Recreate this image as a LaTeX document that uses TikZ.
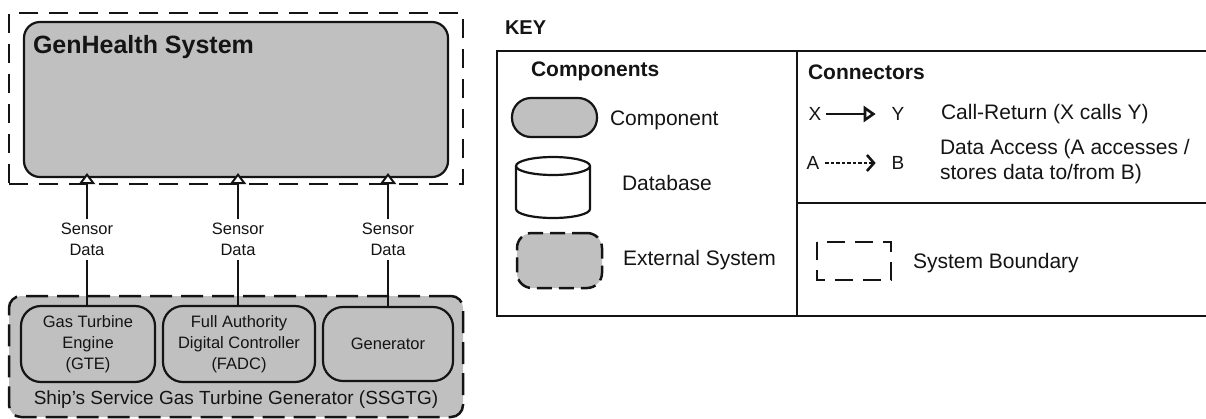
\documentclass[tikz,border=0pt]{standalone}
\usepackage{fontspec}
\setmainfont{Liberation Sans}
\usetikzlibrary{arrows.meta}
\definecolor{compgray}{RGB}{192,192,192}
\definecolor{inkcol}{RGB}{20,20,20}
\begin{document}
\begin{tikzpicture}[x=1pt,y=-1pt,
  every node/.style={inner sep=0pt, outer sep=0pt, text=inkcol},
  txt/.style={font=\fontsize{16.5}{21}\selectfont, align=center},
  keytxt/.style={font=\fontsize{21}{25}\selectfont, align=left, anchor=west},
  keyhead/.style={font=\bfseries\fontsize{21}{25}\selectfont, anchor=west},
  comp/.style={draw=inkcol, line width=2.2pt, fill=compgray, rounded corners=20pt, txt},
  extsys/.style={draw=inkcol, line width=2.5pt, fill=compgray, rounded corners=14pt, dash pattern=on 22pt off 9pt},
  sysbound/.style={draw=inkcol, line width=2.8pt, dash pattern=on 19pt off 11pt},
  sdlabel/.style={txt, inner sep=4pt},
  conn/.style={draw=inkcol, line width=2.2pt},
  callret/.style={conn, -{Triangle[open, fill=white, length=11pt, width=16pt, line width=2pt]}},
  keyline/.style={draw=inkcol, line width=2.2pt}
]
\useasboundingbox (0,0) rectangle (1206,418);

% ---------- GenHealth system and its boundary ----------
\node[sysbound, minimum width=454pt, minimum height=171pt] (sysb) at (236,98.5) {};
\node[comp, rounded corners=16pt, minimum width=424pt, minimum height=155pt] (gh) at (236,99.5) {};
\node[anchor=base west, font=\bfseries\fontsize{25}{30}\selectfont] (ghlabel) at (33,53) {GenHealth System};

% ---------- Ship's service gas turbine generator ----------
\node[extsys, rounded corners=12pt, minimum width=454pt, minimum height=121pt] (ssgtg) at (236,356.5) {};
\node[comp, minimum width=134pt, minimum height=76pt] (gte) at (88,344) {Gas Turbine\\Engine\\(GTE)};
\node[comp, minimum width=152pt, minimum height=76pt] (fadc) at (239,344) {Full Authority\\Digital Controller\\(FADC)};
\node[comp, minimum width=130pt, minimum height=74pt] (gen) at (388,344) {Generator};
\node[font=\fontsize{19}{23}\selectfont] (ssgtglabel) at (236,400) {Ship's Service Gas Turbine Generator (SSGTG)};

% ---------- sensor data flows ----------
\node[sdlabel] (sd1) at (87,239.5) {Sensor\\Data};
\node[sdlabel] (sd2) at (238,239.5) {Sensor\\Data};
\node[sdlabel] (sd3) at (388,239.5) {Sensor\\Data};

\draw[conn] (sd1.south |- gte.north) -- (sd1.south);
\draw[conn] (sd2.south |- fadc.north) -- (sd2.south);
\draw[conn] (sd3.south |- gen.north) -- (sd3.south);
\draw[callret] (sd1.north) -- ([yshift=4pt]sd1.north |- gh.south);
\draw[callret] (sd2.north) -- ([yshift=4pt]sd2.north |- gh.south);
\draw[callret] (sd3.north) -- ([yshift=4pt]sd3.north |- gh.south);

% ---------- key ----------
\node[anchor=west, font=\bfseries\fontsize{20}{24}\selectfont] (keytitle) at (505,28) {KEY};
\draw[keyline] (1210,51) -- (497,51) -- (497,316) -- (1210,316);
\draw[keyline] (797,51) -- (797,316);
\draw[keyline] (797,203) -- (1210,203);

% components column
\node[keyhead] (khcomp) at (531,71) {Components};
\node[comp, rounded corners=19pt, minimum width=85pt, minimum height=39pt] (kcomp) at (554.5,117.5) {};
\node[keytxt] (kcomptxt) at (610,120) {Component};

\draw[draw=inkcol, line width=2.2pt, fill=white] (516,166) -- (516,209)
  arc[start angle=180, end angle=360, x radius=37pt, y radius=9pt] -- (590,166);
\draw[draw=inkcol, line width=2.2pt, fill=white] (553,166) ellipse [x radius=37pt, y radius=9pt];
\node[keytxt] (kdbtxt) at (622,183) {Database};

\node[extsys, rounded corners=15pt, dash pattern=on 15pt off 7pt, minimum width=85pt, minimum height=55pt] (kext) at (559.5,260.5) {};
\node[keytxt] (kexttxt) at (623,260) {External System};

% connectors column
\node[font=\fontsize{19}{23}\selectfont] (kx) at (815,114) {X};
\node[font=\fontsize{19}{23}\selectfont] (ky) at (898,114) {Y};
\node[keyhead] (khconn) at (808,72) {Connectors};
\draw[conn, -{Triangle[open, fill=white, length=12pt, width=16pt, line width=2.6pt]}] ([xshift=5pt]kx.east) -- ([xshift=-16pt]ky.west);
\node[keytxt] (kcalltxt) at (941,114) {Call-Return (X calls Y)};

\node[font=\fontsize{19}{23}\selectfont] (ka) at (813,163) {A};
\node[font=\fontsize{19}{23}\selectfont] (kb) at (898,163) {B};
\draw[conn, dash pattern=on 3.5pt off 2pt, -{Straight Barb[length=7pt, width=16pt, line width=2.6pt]}] ([xshift=6pt]ka.east) -- ([xshift=-16pt]kb.west);
\node[keytxt] (kdatatxt) at (940,162) {Data Access (A accesses /\\stores data to/from B)};

\draw[draw=inkcol, line width=2.4pt, dash pattern=on 18pt off 10pt] (817,242) rectangle (891,280);
\node[keytxt] (kbndtxt) at (913,263) {System Boundary};
\end{tikzpicture}
\end{document}
